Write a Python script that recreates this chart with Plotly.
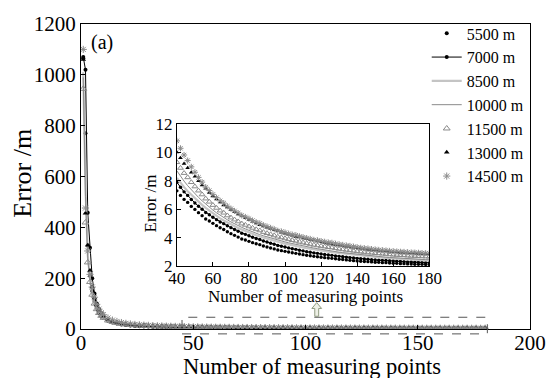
import plotly.graph_objects as go

# x: number of measuring points
x_pts = list(range(1, 11)) + list(range(12, 181, 2))

names = ["5500 m", "7000 m", "8500 m", "10000 m", "11500 m", "13000 m", "14500 m"]

err_5500 = [1065, 770, 330, 210, 150, 110, 84, 66, 52, 43,
            32, 25.5, 21.2, 18.1, 15.8, 14.0, 12.6, 11.5, 10.6, 9.8, 9.15, 8.6, 8.1, 7.68,
            7.30, 6.98, 6.70, 6.49, 6.21, 6.00, 5.77, 5.56, 5.33, 5.19, 5.02, 4.86, 4.71, 4.59, 4.43, 4.30,
            4.18, 4.06, 3.93, 3.86, 3.76, 3.67, 3.59, 3.53, 3.43, 3.36, 3.29, 3.23, 3.15, 3.11, 3.06,
            3.01, 2.96, 2.92, 2.87, 2.83, 2.79, 2.75, 2.71, 2.68, 2.65, 2.62, 2.59, 2.57, 2.54, 2.51,
            2.49, 2.46, 2.43, 2.41, 2.39, 2.37, 2.35, 2.34, 2.32, 2.30, 2.29, 2.27, 2.27, 2.24, 2.23,
            2.22, 2.20, 2.20, 2.18, 2.17, 2.16, 2.15, 2.15, 2.14, 2.13]
err_7000 = [1070, 1020, 457, 320, 200, 140, 100, 78, 62, 50,
            36, 28, 22.6, 19.2, 16.6, 14.7, 13.2, 12.1, 11.2, 10.45, 9.8, 9.25, 8.75, 8.3,
            7.90, 7.55, 7.23, 6.98, 6.69, 6.45, 6.22, 6.01, 5.78, 5.62, 5.45, 5.28, 5.12, 5.00, 4.85, 4.72,
            4.59, 4.47, 4.33, 4.25, 4.15, 4.05, 3.96, 3.89, 3.79, 3.71, 3.63, 3.56, 3.47, 3.42, 3.36,
            3.30, 3.24, 3.20, 3.14, 3.09, 3.04, 3.00, 2.95, 2.92, 2.88, 2.84, 2.81, 2.78, 2.74, 2.71,
            2.68, 2.65, 2.61, 2.60, 2.57, 2.55, 2.53, 2.51, 2.48, 2.46, 2.44, 2.43, 2.42, 2.40, 2.38,
            2.37, 2.35, 2.33, 2.32, 2.31, 2.30, 2.29, 2.28, 2.27, 2.26]
err_8500 = [1010, 560, 290, 200, 140, 100, 78, 62, 50, 41,
            31, 25, 21, 18.1, 15.9, 14.3, 13.0, 12.0, 11.2, 10.5, 9.9, 9.4, 8.95, 8.56,
            8.20, 7.86, 7.56, 7.27, 7.02, 6.78, 6.54, 6.32, 6.11, 5.91, 5.72, 5.54, 5.37, 5.22, 5.08, 4.95,
            4.82, 4.70, 4.59, 4.48, 4.38, 4.28, 4.19, 4.10, 4.02, 3.94, 3.86, 3.79, 3.72, 3.66, 3.60,
            3.54, 3.49, 3.43, 3.38, 3.33, 3.28, 3.24, 3.19, 3.15, 3.11, 3.07, 3.04, 3.00, 2.97, 2.93,
            2.90, 2.87, 2.84, 2.81, 2.78, 2.75, 2.73, 2.71, 2.68, 2.66, 2.64, 2.62, 2.60, 2.58, 2.56,
            2.54, 2.53, 2.51, 2.50, 2.48, 2.47, 2.46, 2.44, 2.43, 2.42]
err_10000 = [990, 520, 275, 190, 135, 98, 76, 60, 49, 41,
             31.5, 25.8, 22.0, 19.2, 17.1, 15.4, 14.0, 12.9, 12.0, 11.25, 10.6, 10.05, 9.55, 9.1,
             8.70, 8.32, 7.98, 7.66, 7.37, 7.10, 6.84, 6.60, 6.37, 6.16, 5.95, 5.76, 5.58, 5.42, 5.27, 5.12,
             4.98, 4.85, 4.74, 4.63, 4.52, 4.42, 4.32, 4.23, 4.15, 4.07, 3.99, 3.92, 3.85, 3.78, 3.72,
             3.66, 3.60, 3.54, 3.49, 3.44, 3.39, 3.34, 3.29, 3.25, 3.20, 3.16, 3.12, 3.08, 3.04, 3.00,
             2.97, 2.94, 2.90, 2.87, 2.84, 2.81, 2.79, 2.76, 2.74, 2.71, 2.69, 2.67, 2.65, 2.63, 2.61,
             2.59, 2.58, 2.56, 2.55, 2.53, 2.52, 2.51, 2.49, 2.48, 2.47]
err_11500 = [945, 419, 262, 185, 135, 100, 78, 63, 52, 44,
             33.5, 27.7, 23.5, 20.4, 18.1, 16.3, 14.9, 13.75, 12.8, 12.0, 11.3, 10.72, 10.2, 9.72,
             9.30, 8.90, 8.54, 8.24, 7.90, 7.60, 7.31, 7.04, 6.75, 6.53, 6.30, 6.10, 5.91, 5.76, 5.57, 5.42,
             5.28, 5.15, 5.00, 4.91, 4.80, 4.70, 4.60, 4.52, 4.41, 4.33, 4.25, 4.17, 4.08, 4.03, 3.96,
             3.90, 3.84, 3.79, 3.72, 3.67, 3.62, 3.57, 3.51, 3.47, 3.43, 3.39, 3.35, 3.32, 3.27, 3.23,
             3.19, 3.16, 3.13, 3.09, 3.06, 3.03, 3.01, 2.97, 2.96, 2.93, 2.91, 2.89, 2.87, 2.84, 2.82,
             2.80, 2.79, 2.78, 2.75, 2.74, 2.73, 2.72, 2.70, 2.69, 2.68]
err_13000 = [1060, 455, 330, 230, 165, 122, 94, 75, 61, 51,
             38, 30.8, 25.7, 22.0, 19.2, 17.0, 15.4, 14.2, 13.3, 12.6, 12.0, 11.4, 10.9, 10.42,
             10.00, 9.60, 9.20, 8.90, 8.59, 8.30, 7.99, 7.70, 7.47, 7.17, 6.92, 6.71, 6.51, 6.29, 6.15, 5.98,
             5.82, 5.67, 5.55, 5.40, 5.28, 5.16, 5.04, 4.91, 4.83, 4.74, 4.65, 4.56, 4.49, 4.39, 4.32,
             4.24, 4.17, 4.09, 4.05, 3.99, 3.93, 3.87, 3.84, 3.77, 3.72, 3.67, 3.62, 3.57, 3.53, 3.49,
             3.45, 3.41, 3.38, 3.33, 3.30, 3.27, 3.24, 3.20, 3.18, 3.15, 3.12, 3.10, 3.08, 3.05, 3.03,
             3.01, 2.99, 2.98, 2.96, 2.94, 2.93, 2.92, 2.90, 2.89, 2.88]
err_14500 = [1100, 476, 307, 215, 165, 125, 97, 78, 64, 56,
             43, 35, 29.5, 25.3, 22.2, 19.8, 17.9, 16.4, 15.2, 14.2, 13.35, 12.6, 11.95, 11.35,
             10.80, 10.28, 9.81, 9.42, 8.98, 8.60, 8.24, 7.91, 7.56, 7.32, 7.05, 6.82, 6.60, 6.44, 6.22, 6.05,
             5.89, 5.74, 5.57, 5.47, 5.35, 5.22, 5.10, 5.02, 4.89, 4.80, 4.70, 4.61, 4.50, 4.45, 4.38,
             4.30, 4.23, 4.19, 4.11, 4.05, 3.99, 3.93, 3.86, 3.83, 3.78, 3.73, 3.68, 3.66, 3.59, 3.55,
             3.51, 3.47, 3.44, 3.39, 3.35, 3.31, 3.28, 3.26, 3.22, 3.19, 3.16, 3.14, 3.12, 3.09, 3.07,
             3.05, 3.03, 3.02, 3.00, 2.98, 2.97, 2.96, 2.94, 2.93, 2.92]

series = [err_5500, err_7000, err_8500, err_10000, err_11500, err_13000, err_14500]

main_xrange = [0, 200]
main_yrange = [0, 1200]
inset_xrange = [40, 180]
inset_yrange = [2, 12]
zoom_box_x = [45, 181]
arrow_x = 105

FONT = "Liberation Serif, Times New Roman, serif"

# plot-area size in pixels (for converting pixel offsets to paper units)
PLOT_W = 558 - 81 - 18
PLOT_H = 378 - 17 - 49


def style(i, scale=1.0):
    s = [
        dict(mode="markers", marker=dict(symbol="circle", size=4 * scale, color="black")),
        dict(mode="lines+markers", line=dict(color="black", width=1),
             marker=dict(symbol="circle", size=4 * scale, color="black")),
        dict(mode="lines", line=dict(color="#c4c4c4", width=2.2)),
        dict(mode="lines", line=dict(color="#8a8a8a", width=1)),
        dict(mode="markers", marker=dict(symbol="triangle-up-open", size=6 * scale, color="#8a8a8a",
                                         line=dict(width=1, color="#8a8a8a"))),
        dict(mode="markers", marker=dict(symbol="triangle-up", size=5 * scale, color="black")),
        dict(mode="markers", marker=dict(symbol="asterisk-open", size=6 * scale, color="#8c8c8c",
                                         line=dict(width=1, color="#8c8c8c"))),
    ]
    return s[i]


fig = go.Figure()
for i, (name, ys) in enumerate(zip(names, series)):
    fig.add_trace(go.Scatter(x=x_pts, y=ys, name=name, legendgroup=name,
                             xaxis="x", yaxis="y", **style(i)))
for i, (name, ys) in enumerate(zip(names, series)):
    xs = [xv for xv in x_pts if xv >= inset_xrange[0]]
    yv = [v for xv, v in zip(x_pts, ys) if xv >= inset_xrange[0]]
    fig.add_trace(go.Scatter(x=xs, y=yv, name=name, legendgroup=name, showlegend=False,
                             xaxis="x2", yaxis="y2", **style(i, 0.85)))

axis_common = dict(showline=True, linecolor="black", linewidth=1, mirror=True,
                   ticks="inside", ticklen=4, tickcolor="black", showgrid=False,
                   zeroline=False)

fig.update_layout(
    width=558, height=378,
    margin=dict(l=81, r=18, t=17, b=49),
    paper_bgcolor="white", plot_bgcolor="white",
    font=dict(family=FONT, color="black"),
    xaxis=dict(range=main_xrange, dtick=50, tickfont=dict(size=21, family=FONT),
               ticklabelstandoff=-5, domain=[0, 1], anchor="y", **axis_common),
    yaxis=dict(range=main_yrange, dtick=200, tickfont=dict(size=21, family=FONT),
               domain=[0, 1], anchor="x", **axis_common),
    xaxis2=dict(range=inset_xrange, dtick=20, tickfont=dict(size=17, family=FONT),
                ticklabelstandoff=-4, domain=[0.2135, 0.7756], anchor="y2", **axis_common),
    yaxis2=dict(range=inset_yrange, dtick=2, tickfont=dict(size=17, family=FONT),
                domain=[0.205, 0.673], anchor="x2", **axis_common),
    legend=dict(x=0.77, y=1.025, xanchor="left", yanchor="top",
                bgcolor="rgba(0,0,0,0)", font=dict(size=16, family=FONT),
                tracegroupgap=0, itemwidth=30),
    showlegend=True,
)


def px(v):
    return (v - main_xrange[0]) / (main_xrange[1] - main_xrange[0])


fig.add_shape(type="rect", xref="paper", yref="paper",
              x0=px(zoom_box_x[0]), x1=px(zoom_box_x[1]), y0=-0.016, y1=0.0385,
              line=dict(color="#555555", width=1, dash="dash"))

# hollow up-arrow pointing from the dashed box to the inset
ax0 = px(arrow_x)
ay_base = 0.0417  # paper y of arrow bottom


def pt(dx_px, dy_px):
    return f"{ax0 + dx_px / PLOT_W:.5f},{ay_base + dy_px / PLOT_H:.5f}"


arrow_path = ("M " + pt(0, 14) + " L " + pt(5, 8) + " L " + pt(2, 8) + " L " + pt(2, 0)
              + " L " + pt(-2, 0) + " L " + pt(-2, 8) + " L " + pt(-5, 8) + " Z")
fig.add_shape(type="path", xref="paper", yref="paper", path=arrow_path,
              line=dict(color="#8f9a80", width=1), fillcolor="#eef0e6")

annots = [
    dict(text="(a)", x=0.018, y=0.985, xanchor="left", yanchor="top", font=dict(size=20, family=FONT)),
    dict(text="Error /m", x=-0.131, y=0.51, textangle=-90, font=dict(size=26, family=FONT)),
    dict(text="Number of measuring points", x=0.514, y=-0.124, font=dict(size=22.5, family=FONT)),
    dict(text="Error /m", x=0.1547, y=0.413, textangle=-90, font=dict(size=17, family=FONT)),
    dict(text="Number of measuring points", x=0.499, y=0.107, font=dict(size=17, family=FONT)),
]
for a in annots:
    a.setdefault("xanchor", "center")
    a.setdefault("yanchor", "middle")
    fig.add_annotation(xref="paper", yref="paper", showarrow=False, **a)

fig.write_html("out.html")
